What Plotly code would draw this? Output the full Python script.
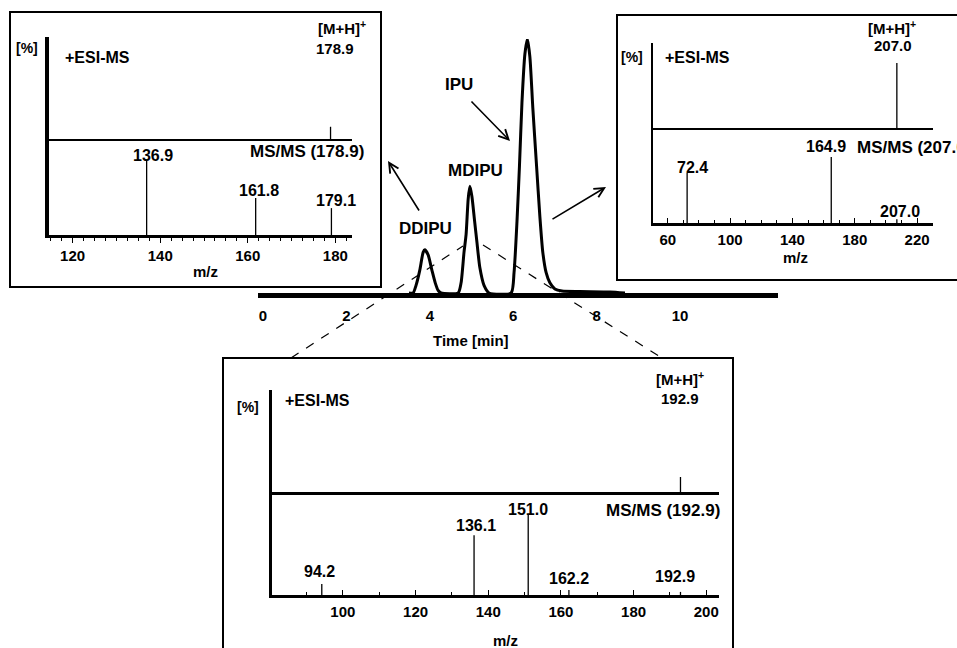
import plotly.graph_objects as go

W, H = 957, 648

# ---------------- data ----------------
# HPLC chromatogram (time in min, relative intensity in %)
chrom_time = [3.50, 3.60, 3.67, 3.76, 3.84, 3.88, 3.96, 4.05, 4.13, 4.20, 4.27,
              4.68, 4.75, 4.82, 4.87, 4.92, 4.96, 5.01, 5.07, 5.13, 5.20, 5.30, 5.42,
              5.95, 6.02, 6.09, 6.15, 6.21, 6.28, 6.34, 6.40, 6.47, 6.56, 6.64, 6.71,
              6.79, 6.88, 7.00, 7.17, 7.60, 8.32, 8.68]
chrom_intensity = [0, 0, 3, 9, 16, 17, 15, 9, 4, 1, 0,
                   0, 4, 16, 23, 37, 42, 38, 29, 20, 10, 3, 0,
                   0, 8, 28, 50, 75, 94, 100, 93, 73, 50, 30, 16,
                   8, 4, 1.6, 0.8, 0.6, 0.4, 0]
time_ticks = [0, 2, 4, 6, 8, 10]
compound_names = ["DDIPU", "MDIPU", "IPU"]

# DDIPU (left inset)
ddipu_precursor = "178.9"
ddipu_ms_mz = [178.9]
ddipu_ms_int = [12]
ddipu_msms_mz = [136.9, 161.8, 179.1]
ddipu_msms_int = [78, 38.5, 28]
ddipu_ticks = [120, 140, 160, 180]

# IPU (right inset)
ipu_precursor = "207.0"
ipu_ms_mz = [207.0]
ipu_ms_int = [76.5]
ipu_msms_mz = [72.4, 164.9, 207.0]
ipu_msms_int = [52.6, 69.5, 4]
ipu_ticks = [60, 100, 140, 180, 220]

# MDIPU (bottom inset)
mdipu_precursor = "192.9"
mdipu_ms_mz = [192.9]
mdipu_ms_int = [14.7]
mdipu_msms_mz = [94.2, 136.1, 151.0, 162.2, 192.9]
mdipu_msms_int = [10.7, 58, 77.7, 4.9, 3]
mdipu_ticks = [100, 120, 140, 160, 180, 200]

# ---------------- helpers ----------------
FONT = "Liberation Sans, Arial, sans-serif"


def dx(a, b):
    return [a / W, b / W]


def dy(top, bottom):
    return [1 - bottom / H, 1 - top / H]


def px(x):
    return x / W


def py(y):
    return 1 - y / H


def sticks(mz, inten):
    xs, ys = [], []
    for m, h in zip(mz, inten):
        xs += [m, m, None]
        ys += [0, h, None]
    return xs, ys


fig = go.Figure()
annotations = []
shapes = []


def text(t, x, y, xanchor="center", size=15, yanchor="middle", weight="bold"):
    annotations.append(dict(text=t, x=px(x), y=py(y), xref="paper", yref="paper",
                            xanchor=xanchor, yanchor=yanchor, showarrow=False,
                            font=dict(family=FONT, size=size, color="black", weight=weight)))


# ---------------- chromatogram ----------------
fig.add_trace(go.Scatter(x=chrom_time, y=chrom_intensity, mode="lines",
                         line=dict(color="black", width=3, shape="spline", smoothing=0.6),
                         xaxis="x", yaxis="y", showlegend=False, hoverinfo="skip"))

layout = dict(
    width=W, height=H, margin=dict(l=0, r=0, t=0, b=0),
    paper_bgcolor="white", plot_bgcolor="rgba(0,0,0,0)", showlegend=False,
    xaxis=dict(domain=dx(258, 778), range=[-0.12, 12.35], anchor="y",
               showline=True, linewidth=5, linecolor="black", showgrid=False, zeroline=False,
               tickvals=time_ticks, ticktext=[str(t) for t in time_ticks],
               ticks="outside", ticklen=5, tickcolor="rgba(0,0,0,0)",
               tickfont=dict(family=FONT, size=15, color="black", weight="bold")),
    yaxis=dict(domain=dy(39, 293), range=[0, 100], anchor="x", visible=False),
)

text("Time [min]", 471, 340, size=15)
text(compound_names[0], 425, 228, size=17)
text(compound_names[1], 475, 171, size=17)
text(compound_names[2], 459, 84, size=17)


# ---------------- insets ----------------
def inset(n_low, n_up, xdom, ytop, ymid, ybot, xrange, ticks, minor_dtick, tickdir,
          ms_mz, ms_int, msms_mz, msms_int, yline_w, mid_w, bot_w, tick_fs=15):
    xl, yl = f"x{n_low}", f"y{n_low}"
    xu, yu = f"x{n_up}", f"y{n_up}"
    mx, my = sticks(msms_mz, msms_int)
    fig.add_trace(go.Scatter(x=mx, y=my, mode="lines", line=dict(color="black", width=1.3),
                             xaxis=xl, yaxis=yl, hoverinfo="skip"))
    ux, uy = sticks(ms_mz, ms_int)
    fig.add_trace(go.Scatter(x=ux, y=uy, mode="lines", line=dict(color="black", width=1.3),
                             xaxis=xu, yaxis=yu, hoverinfo="skip"))
    layout[f"xaxis{n_low}"] = dict(
        domain=xdom, range=xrange, anchor=yl, showline=True, linewidth=bot_w, linecolor="black",
        showgrid=False, zeroline=False, tickvals=ticks, ticks=tickdir, ticklen=5, tickwidth=1,
        tickcolor="black", ticklabelstandoff=0 if tickdir == "outside" else 1,
        minor=dict(dtick=minor_dtick, ticks=tickdir, ticklen=3, tickcolor="black", tickwidth=1),
        tickfont=dict(family=FONT, size=tick_fs, color="black", weight="bold"))
    layout[f"yaxis{n_low}"] = dict(domain=dy(ymid, ybot), range=[0, 100], anchor=xl,
                                   showline=True, linewidth=yline_w, linecolor="black",
                                   showgrid=False, zeroline=False, showticklabels=False, ticks="")
    layout[f"xaxis{n_up}"] = dict(domain=xdom, range=xrange, anchor=yu, matches=xl,
                                  showline=True, linewidth=mid_w, linecolor="black",
                                  showgrid=False, zeroline=False, showticklabels=False, ticks="")
    layout[f"yaxis{n_up}"] = dict(domain=dy(ytop, ymid), range=[0, 100], anchor=xu,
                                  showline=True, linewidth=yline_w, linecolor="black",
                                  showgrid=False, zeroline=False, showticklabels=False, ticks="")
    return xl, yl, xu, yu


def peak_label(t, x, y, xref, yref, xshift, yshift, size=16):
    annotations.append(dict(text=t, x=x, y=y, xref=xref, yref=yref, xshift=xshift, yshift=yshift,
                            xanchor="center", yanchor="middle", showarrow=False,
                            font=dict(family=FONT, size=size, color="black", weight="bold")))


# Left inset: DDIPU
xl, yl, xu, yu = inset(2, 3, dx(49, 352), 37, 139, 235, [114.6, 183.8], ddipu_ticks, 2.5,
                       "outside", ddipu_ms_mz, ddipu_ms_int, ddipu_msms_mz, ddipu_msms_int,
                       4, 2, 3)
left_dx = [6, 3, 5]
left_dy = [5, 8, 8]
for m, h, sx, sy in zip(ddipu_msms_mz, ddipu_msms_int, left_dx, left_dy):
    peak_label(f"{m:.1f}", m, h, xl, yl, sx, sy)
peak_label("[M+H]<sup>+</sup>", ddipu_ms_mz[0], 1, xu, yu + " domain", 11, 10, size=15)
peak_label(ddipu_precursor, ddipu_ms_mz[0], 1, xu, yu + " domain", 4, -11, size=15)
text("[%]", 27, 48, size=14)
text("+ESI-MS", 63, 57, xanchor="left", size=16)
text(f"MS/MS ({ddipu_precursor})", 366, 152, xanchor="right", size=17)
text("m/z", 205, 271, size=15)
shapes.append(dict(type="rect", xref="paper", yref="paper", x0=px(10), x1=px(381),
                   y0=py(287), y1=py(12), line=dict(color="black", width=2)))

# Right inset: IPU
xl, yl, xu, yu = inset(4, 5, dx(653, 933), 43, 128, 223, [50.5, 230.2], ipu_ticks, 10,
                       "inside", ipu_ms_mz, ipu_ms_int, ipu_msms_mz, ipu_msms_int,
                       2, 2, 3)
right_dx = [5, -5, 3]
right_dy = [6, 10, 8]
for m, h, sx, sy in zip(ipu_msms_mz, ipu_msms_int, right_dx, right_dy):
    peak_label(f"{m:.1f}", m, h, xl, yl, sx, sy)
peak_label("[M+H]<sup>+</sup>", ipu_ms_mz[0], 1, xu, yu + " domain", -5, 15, size=15)
peak_label(ipu_precursor, ipu_ms_mz[0], 1, xu, yu + " domain", -4, -3, size=15)
text("[%]", 632, 57, size=14)
text("+ESI-MS", 663, 57, xanchor="left", size=16)
text(f"MS/MS ({ipu_precursor})", 855, 147, xanchor="left", size=17)
text("m/z", 795, 257, size=15)
shapes.append(dict(type="rect", xref="paper", yref="paper", x0=px(617), x1=px(975),
                   y0=py(280), y1=py(15), line=dict(color="black", width=2)))

# Bottom inset: MDIPU
xl, yl, xu, yu = inset(6, 7, dx(272, 719), 390, 492, 595, [80.5, 203.5], mdipu_ticks, 10,
                       "inside", mdipu_ms_mz, mdipu_ms_int, mdipu_msms_mz, mdipu_msms_int,
                       2.5, 3, 3)
bottom_dx = [-2, 2, 0, 0, -5]
bottom_dy = [12, 10, 5, 11, 15]
for m, h, sx, sy in zip(mdipu_msms_mz, mdipu_msms_int, bottom_dx, bottom_dy):
    peak_label(f"{m:.1f}", m, h, xl, yl, sx, sy)
peak_label("[M+H]<sup>+</sup>", mdipu_ms_mz[0], 1, xu, yu + " domain", 0, 12, size=15)
peak_label(mdipu_precursor, mdipu_ms_mz[0], 1, xu, yu + " domain", 0, -8, size=15)
text("[%]", 248, 407, size=14)
text("+ESI-MS", 283, 400, xanchor="left", size=16)
text(f"MS/MS ({mdipu_precursor})", 722, 510, xanchor="right", size=17)
text("m/z", 505, 640, size=15)
shapes.append(dict(type="rect", xref="paper", yref="paper", x0=px(223), x1=px(733),
                   y0=py(660), y1=py(358), line=dict(color="black", width=2)))

# dashed guide lines from MDIPU peak to bottom inset
shapes.append(dict(type="line", xref="paper", yref="paper", x0=px(291), y0=py(358),
                   x1=px(463), y1=py(246), line=dict(color="black", width=1.2, dash="dash")))
shapes.append(dict(type="line", xref="paper", yref="paper", x0=px(483), y0=py(245),
                   x1=px(662), y1=py(358), line=dict(color="black", width=1.2, dash="dash")))


# arrows
def arrow(hx, hy, tx, ty):
    annotations.append(dict(text="", x=px(hx), y=py(hy), xref="paper", yref="paper",
                            ax=tx - hx, ay=ty - hy, showarrow=True, arrowhead=5,
                            arrowsize=1.2, arrowwidth=1.6, arrowcolor="black"))


arrow(388, 161, 420, 212)
arrow(510, 141, 470, 100)
arrow(606, 187, 551, 220)

layout["annotations"] = annotations
layout["shapes"] = shapes
fig.update_layout(**layout)

fig.write_html("out.html")
